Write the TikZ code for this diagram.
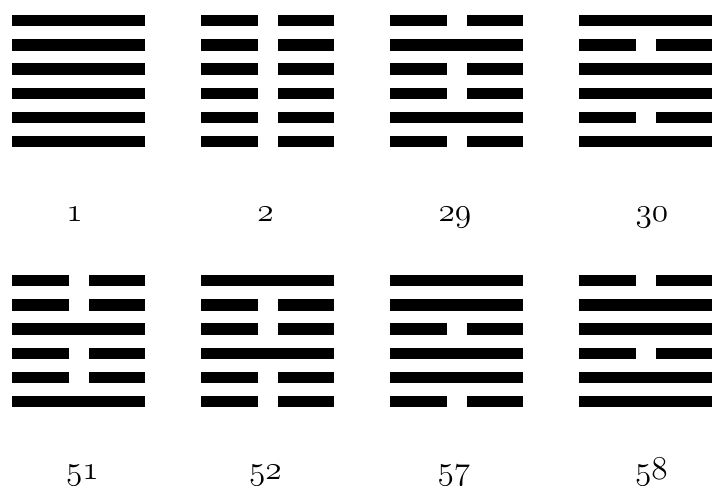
\documentclass[tikz,border=0pt]{standalone}
\usepackage{graphicx}
\tikzset{
  bar/.style={fill=black, draw=none},
  lbl/.style={anchor=base, inner sep=0pt, font=\fontsize{24.88}{30}\selectfont}
}
\newcommand{\osnum}[1]{\scalebox{1.34}{\usefont{OML}{cmm}{m}{it}#1}}
\newcommand{\hexgram}[4]{% #1 name, #2 left x, #3 top y, #4 pattern list
  \foreach \b [count=\k from 0] in {#4} {
    \pgfmathsetmacro{\yc}{#3 + 24.2*\k}
    \ifnum\b=1
      \fill[bar] (#2, \yc-5.7) rectangle (#2+133, \yc+5.7);
    \else
      \fill[bar] (#2, \yc-5.7) rectangle (#2+56.5, \yc+5.7);
      \fill[bar] (#2+76.5, \yc-5.7) rectangle (#2+133, \yc+5.7);
    \fi
  }
}
\begin{document}
\begin{tikzpicture}[x=1pt,y=-1pt]
\useasboundingbox (0,0) rectangle (712,486);
% row 1
\hexgram{h1}{12}{20.7}{1,1,1,1,1,1}
\hexgram{h2}{201}{20.7}{0,0,0,0,0,0}
\hexgram{h29}{390}{20.7}{0,1,0,0,1,0}
\hexgram{h30}{579}{20.7}{1,0,1,1,0,1}
% row 2
\hexgram{h51}{12}{280.7}{0,0,1,0,0,1}
\hexgram{h52}{201}{280.7}{1,0,0,1,0,0}
\hexgram{h57}{390}{280.7}{1,1,0,1,1,0}
\hexgram{h58}{579}{280.7}{0,1,1,0,1,1}
% labels
\node[lbl] (l1)  at (74.5,221.5) {\osnum{1}};
\node[lbl] (l2)  at (265.5,221.5) {\osnum{2}};
\node[lbl] (l29) at (455,221.5) {\osnum{29}};
\node[lbl] (l30) at (652,221.5) {\osnum{30}};
\node[lbl] (l51) at (82.5,479.5) {\osnum{51}};
\node[lbl] (l52) at (265.5,479.5) {\osnum{52}};
\node[lbl] (l57) at (454,479.5) {\osnum{57}};
\node[lbl] (l58) at (651.5,479.5) {\osnum{58}};
\end{tikzpicture}
\end{document}
